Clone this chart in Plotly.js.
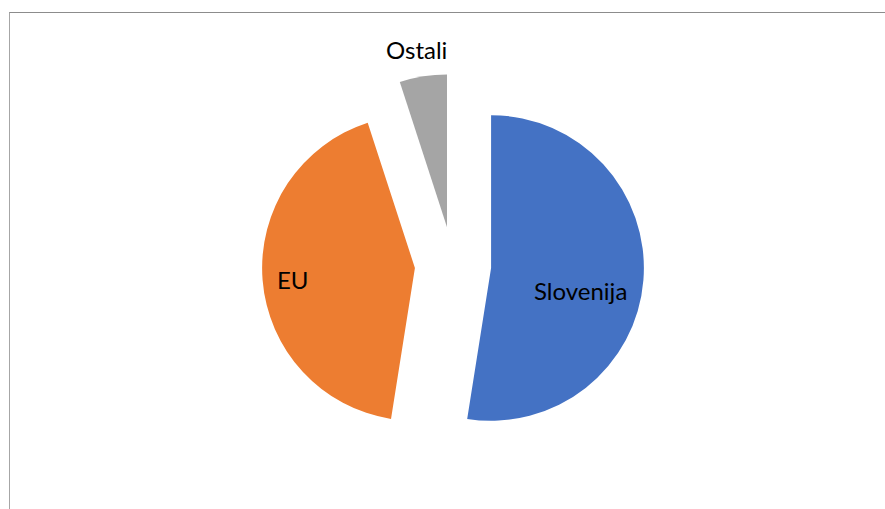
<!DOCTYPE html>
<html>
<head>
<meta charset="utf-8">
<script src="https://cdn.plot.ly/plotly-3.0.1.min.js"></script>
<style>
html, body { margin: 0; padding: 0; background: #fff; overflow: hidden; }
#frame { position: absolute; left: 9px; top: 12px; width: 900px; height: 520px; border-top: 1.5px solid #8c8c8c; border-left: 1.5px solid #a6a6a6; }
#chart { position: absolute; left: 0; top: 0; width: 885px; height: 509px; }
</style>
</head>
<body>
<div id="frame"></div>
<div id="chart"></div>
<script>
const labels = ["Slovenija", "EU", "Ostali"];
const values = [52.5, 42.5, 5];
const colors = ["#4472C4", "#ED7D31", "#A5A5A5"];
// label anchor positions (paper coords of the plot area)
const labelX = [0.647, 0.315, 0.458];
const labelY = [0.432, 0.461, 1.063];

const annotations = labels.map((t, i) => ({
  text: t, xref: "paper", yref: "paper", x: labelX[i], y: labelY[i],
  xanchor: "center", yanchor: "middle", showarrow: false,
  font: { family: "Lato, Carlito, sans-serif", size: 24, color: "#000" }
}));

Plotly.newPlot("chart", [{
  type: "pie",
  labels: labels,
  values: values,
  sort: false,
  direction: "clockwise",
  rotation: 0,
  pull: 0.25,
  marker: { colors: colors, line: { width: 0 } },
  textinfo: "none",
  hoverinfo: "none",
  automargin: false
}], {
  width: 885, height: 509,
  margin: { l: 21, r: 0, t: 74, b: 53 },
  showlegend: false,
  annotations: annotations,
  paper_bgcolor: "rgba(0,0,0,0)",
  plot_bgcolor: "rgba(0,0,0,0)"
}, { displayModeBar: false, staticPlot: true });
</script>
</body>
</html>
